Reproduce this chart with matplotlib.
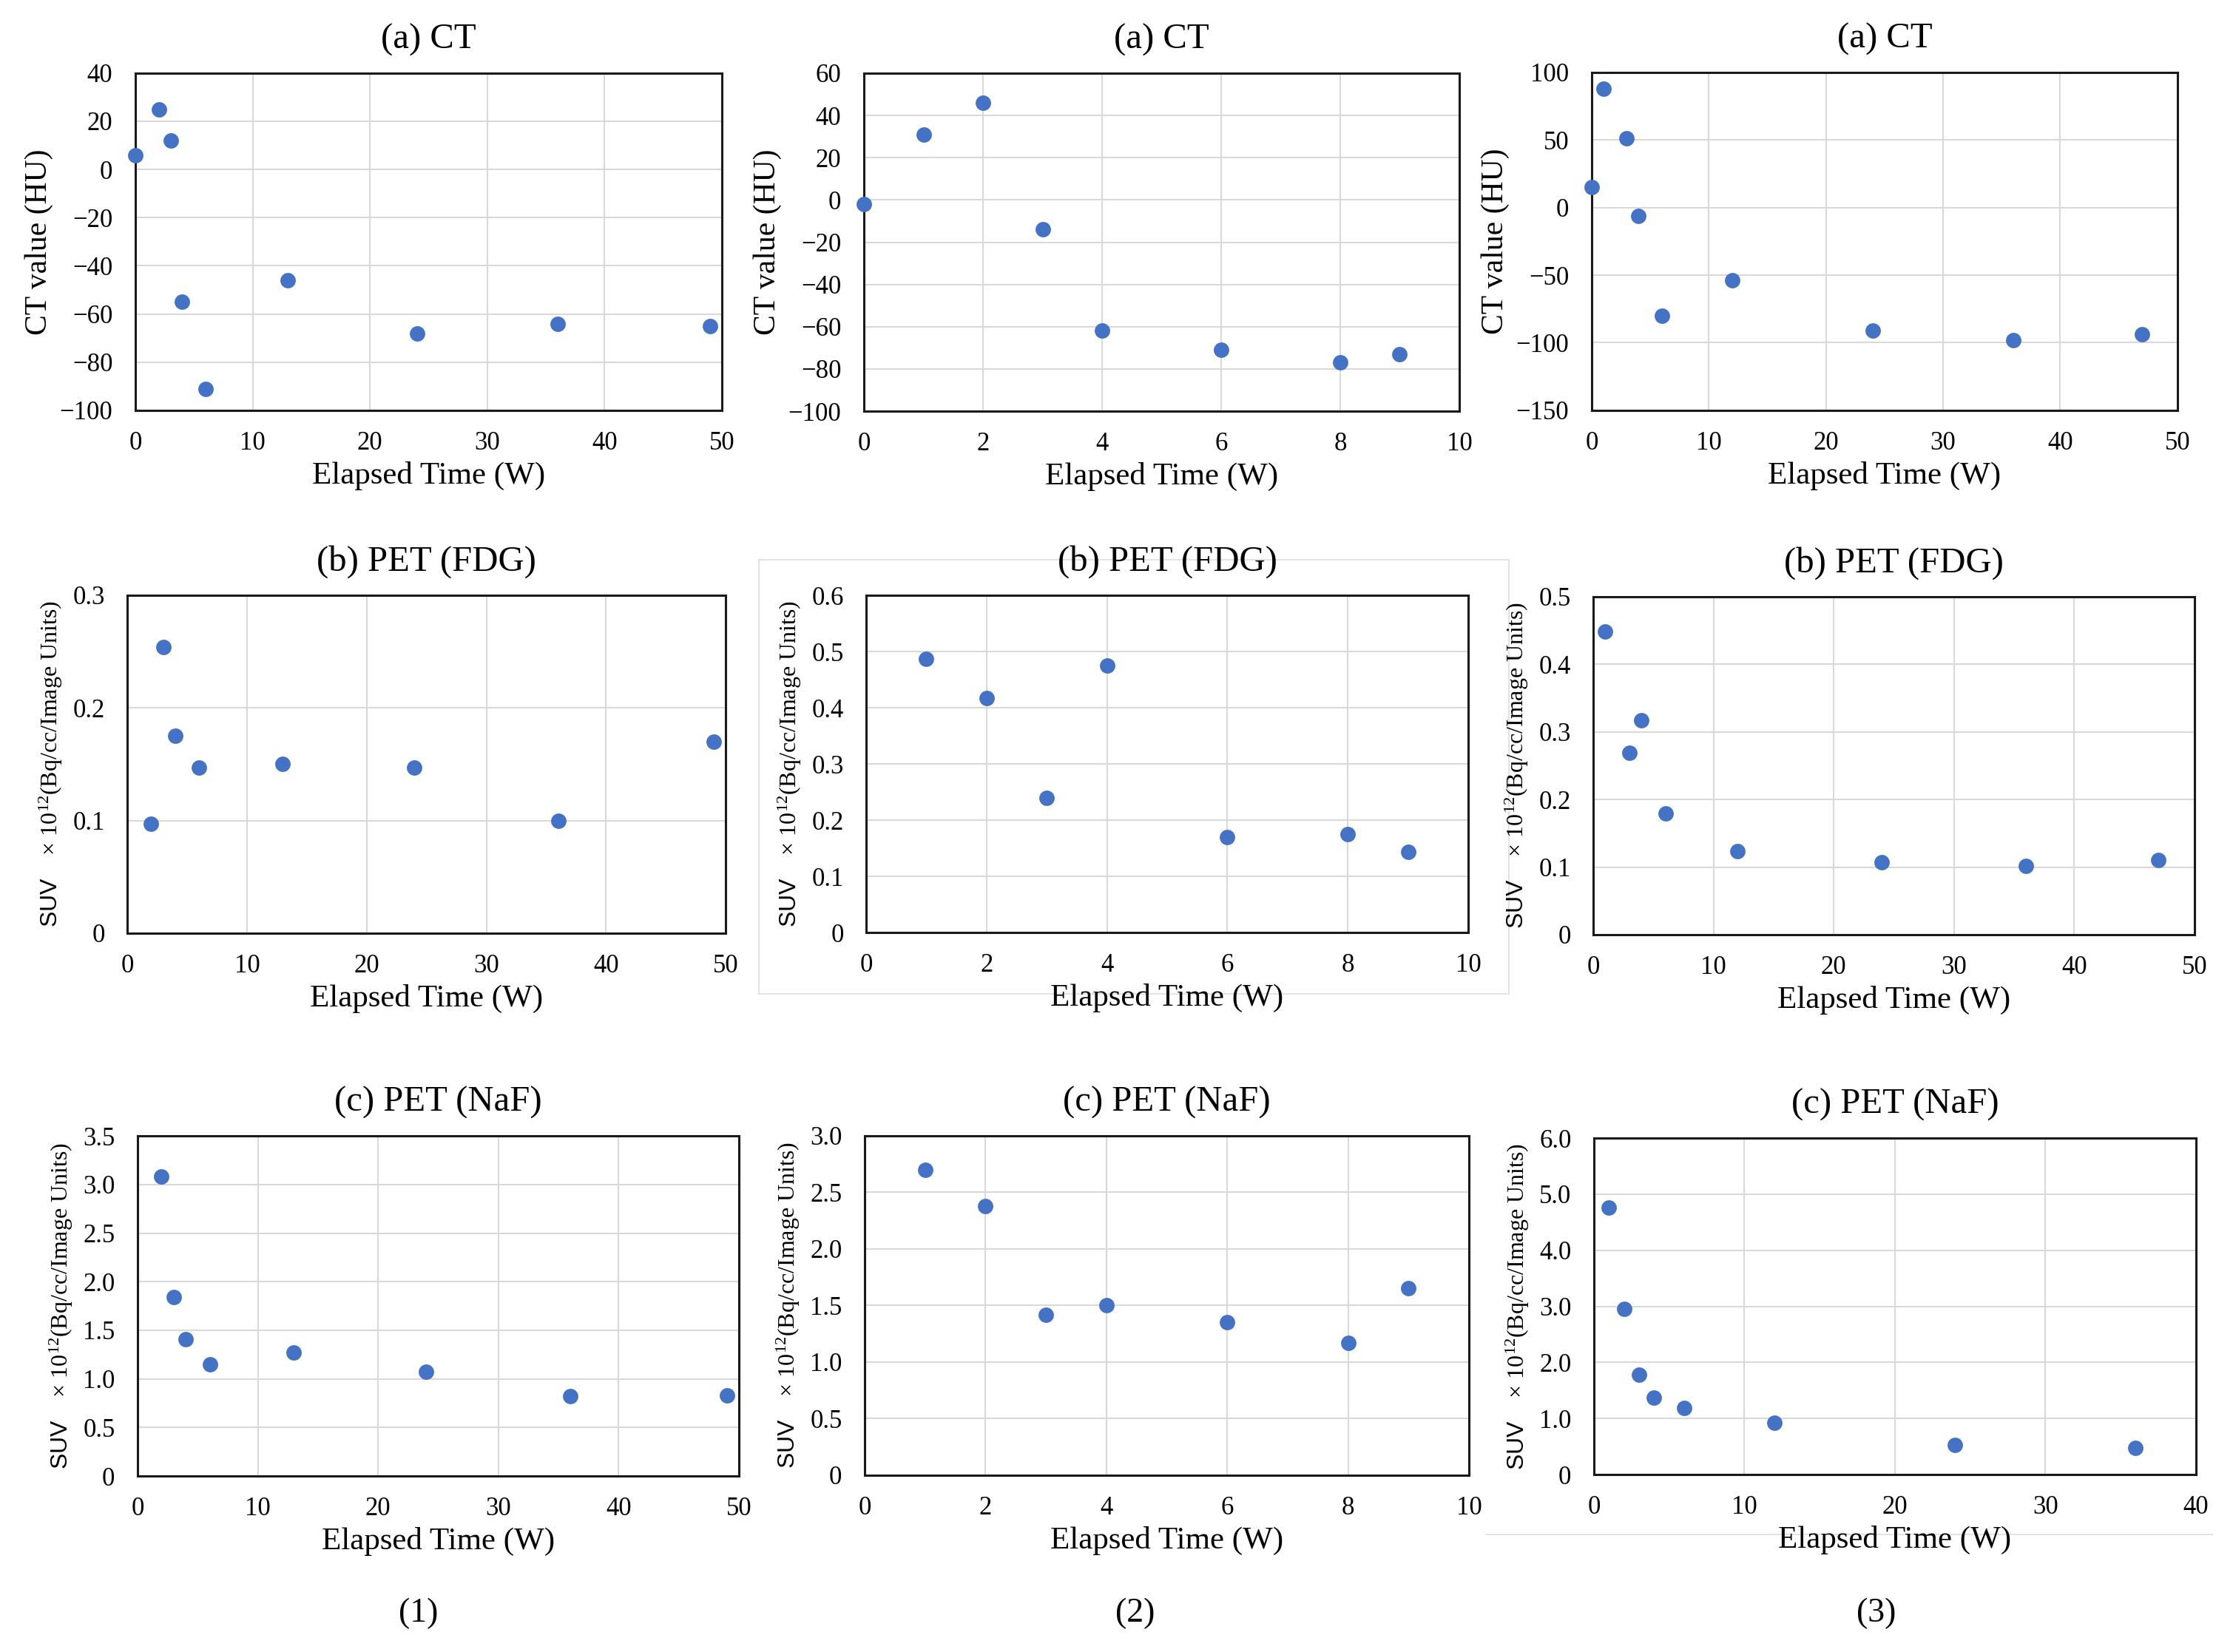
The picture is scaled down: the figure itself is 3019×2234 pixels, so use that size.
import matplotlib
matplotlib.use("Agg")
import matplotlib.pyplot as plt
from matplotlib.patches import Rectangle
from matplotlib.lines import Line2D

plt.rcParams['font.family'] = ['Liberation Serif', 'DejaVu Serif']
plt.rcParams['mathtext.fontset'] = 'custom'
plt.rcParams['mathtext.rm'] = 'Liberation Serif'
plt.rcParams['mathtext.sf'] = 'Liberation Sans'
plt.rcParams['mathtext.it'] = 'Liberation Serif:italic'

# ---------------- data ----------------
# Column (1)
ct1_x = [0, 2, 3, 4, 6, 13, 24, 36, 49]
ct1_y = [6, 25, 12, -55, -91, -46, -68, -64, -65]
fdg1_x = [2, 3, 4, 6, 13, 24, 36, 49]
fdg1_y = [0.097, 0.254, 0.175, 0.147, 0.150, 0.147, 0.100, 0.170]
naf1_x = [2, 3, 4, 6, 13, 24, 36, 49]
naf1_y = [3.08, 1.84, 1.41, 1.15, 1.27, 1.07, 0.82, 0.83]

# Column (2)
ct2_x = [0, 1, 2, 3, 4, 6, 8, 9]
ct2_y = [-2, 31, 46, -14, -62, -71, -77, -73]
fdg2_x = [1, 2, 3, 4, 6, 8, 9]
fdg2_y = [0.487, 0.417, 0.240, 0.475, 0.170, 0.175, 0.144]
naf2_x = [1, 2, 3, 4, 6, 8, 9]
naf2_y = [2.70, 2.38, 1.42, 1.50, 1.35, 1.17, 1.65]

# Column (3)
ct3_x = [0, 1, 3, 4, 6, 12, 24, 36, 47]
ct3_y = [15, 88, 51, -6, -80, -54, -91, -98, -94]
fdg3_x = [1, 3, 4, 6, 12, 24, 36, 47]
fdg3_y = [0.449, 0.269, 0.317, 0.179, 0.124, 0.107, 0.102, 0.111]
naf3_x = [1, 2, 3, 4, 6, 12, 24, 36]
naf3_y = [4.76, 2.95, 1.78, 1.37, 1.19, 0.93, 0.53, 0.47]

# ticks
x50_ticks = [0, 10, 20, 30, 40, 50]
x10_ticks = [0, 2, 4, 6, 8, 10]
x40_ticks = [0, 10, 20, 30, 40]
ct1_ticks = [-100, -80, -60, -40, -20, 0, 20, 40]
ct2_ticks = [-100, -80, -60, -40, -20, 0, 20, 40, 60]
ct3_ticks = [-150, -100, -50, 0, 50, 100]
fdg1_ticks = [0, 0.1, 0.2, 0.3]
fdg1_labels = ["0", "0.1", "0.2", "0.3"]
fdg2_ticks = [0, 0.1, 0.2, 0.3, 0.4, 0.5, 0.6]
fdg2_labels = ["0", "0.1", "0.2", "0.3", "0.4", "0.5", "0.6"]
fdg3_ticks = [0, 0.1, 0.2, 0.3, 0.4, 0.5]
fdg3_labels = ["0", "0.1", "0.2", "0.3", "0.4", "0.5"]
naf1_ticks = [0, 0.5, 1.0, 1.5, 2.0, 2.5, 3.0, 3.5]
naf1_labels = ["0", "0.5", "1.0", "1.5", "2.0", "2.5", "3.0", "3.5"]
naf2_ticks = [0, 0.5, 1.0, 1.5, 2.0, 2.5, 3.0]
naf2_labels = ["0", "0.5", "1.0", "1.5", "2.0", "2.5", "3.0"]
naf3_ticks = [0, 1.0, 2.0, 3.0, 4.0, 5.0, 6.0]
naf3_labels = ["0", "1.0", "2.0", "3.0", "4.0", "5.0", "6.0"]

titles = ["(a) CT", "(b) PET (FDG)", "(c) PET (NaF)"]
col_labels = ["(1)", "(2)", "(3)"]
xlabel = "Elapsed Time (W)"
ct_ylabel = "CT value (HU)"
suv_ylabel = r"$\mathsf{SUV}$    × 10$^{12}$(Bq/cc/Image Units)"

# ---------------- layout ----------------
W, H = 3019, 2234
fig = plt.figure(figsize=(W / 100, H / 100), dpi=100)

# [left, bottom, width, height] in figure fractions
rects = {
    (0, 0): [0.0606, 0.7516, 0.2627, 0.2042],
    (0, 1): [0.3869, 0.7511, 0.2666, 0.2046],
    (0, 2): [0.7128, 0.7516, 0.2623, 0.2047],
    (1, 0): [0.0570, 0.4351, 0.2680, 0.2047],
    (1, 1): [0.3879, 0.4355, 0.2696, 0.2041],
    (1, 2): [0.7135, 0.4342, 0.2693, 0.2046],
    (2, 0): [0.0616, 0.1065, 0.2693, 0.2059],
    (2, 1): [0.3872, 0.1070, 0.2706, 0.2055],
    (2, 2): [0.7138, 0.1074, 0.2696, 0.2037],
}

panels = {
    (0, 0): (ct1_x, ct1_y, (0, 50), x50_ticks, (-100, 40), ct1_ticks, None),
    (0, 1): (ct2_x, ct2_y, (0, 10), x10_ticks, (-100, 60), ct2_ticks, None),
    (0, 2): (ct3_x, ct3_y, (0, 50), x50_ticks, (-150, 100), ct3_ticks, None),
    (1, 0): (fdg1_x, fdg1_y, (0, 50), x50_ticks, (0, 0.3), fdg1_ticks, fdg1_labels),
    (1, 1): (fdg2_x, fdg2_y, (0, 10), x10_ticks, (0, 0.6), fdg2_ticks, fdg2_labels),
    (1, 2): (fdg3_x, fdg3_y, (0, 50), x50_ticks, (0, 0.5), fdg3_ticks, fdg3_labels),
    (2, 0): (naf1_x, naf1_y, (0, 50), x50_ticks, (0, 3.5), naf1_ticks, naf1_labels),
    (2, 1): (naf2_x, naf2_y, (0, 10), x10_ticks, (0, 3.0), naf2_ticks, naf2_labels),
    (2, 2): (naf3_x, naf3_y, (0, 40), x40_ticks, (0, 6.0), naf3_ticks, naf3_labels),
}

blue = "#4472C4"
grid_c = "#D9D9D9"

for (r, c), (xs, ys, xl, xt, yl, yt, ylabs) in panels.items():
    ax = fig.add_axes(rects[(r, c)])
    ax.scatter(xs, ys, s=15 ** 2, color=blue, zorder=3, clip_on=False, linewidths=0)
    ax.set_xlim(*xl)
    ax.set_ylim(*yl)
    ax.set_xticks(xt)
    if ylabs is None:
        ax.set_yticks(yt)
    else:
        ax.set_yticks(yt, ylabs)
    ax.grid(True, color=grid_c, linewidth=1.5, zorder=0)
    ax.set_axisbelow(True)
    for sp in ax.spines.values():
        sp.set_color("#1a1a1a")
        sp.set_linewidth(2.2)
    ax.tick_params(axis="both", length=0, labelsize=25, colors="black")
    ax.tick_params(axis="x", pad=20)
    ax.tick_params(axis="y", pad=22)
    ax.set_title(titles[r], fontsize=35, pad=24)
    ax.set_xlabel(xlabel, fontsize=31, labelpad=6)
    if r == 0:
        ax.set_ylabel(ct_ylabel, fontsize=30, labelpad=6)
    else:
        ax.set_ylabel(suv_ylabel, fontsize=23, labelpad=8)

# column labels
for cx, lab in zip([0.1875, 0.5085, 0.8404], col_labels):
    fig.text(cx, 0.0233, lab, ha="center", va="center", fontsize=33)

# faint chart-area borders (remnants of the original chart frames)
fig.add_artist(Rectangle((1026 / W, 1 - 1344 / H), (2040 - 1026) / W, (1344 - 757) / H,
                         transform=fig.transFigure, fill=False,
                         edgecolor="#E3E3E3", linewidth=1.5, zorder=0))
fig.add_artist(Line2D([2009 / W, 2991 / W], [1 - 2075 / H, 1 - 2075 / H],
                      transform=fig.transFigure, color="#E3E3E3", linewidth=1.5, zorder=0))

fig.savefig("out.png", dpi=100, facecolor="white")
